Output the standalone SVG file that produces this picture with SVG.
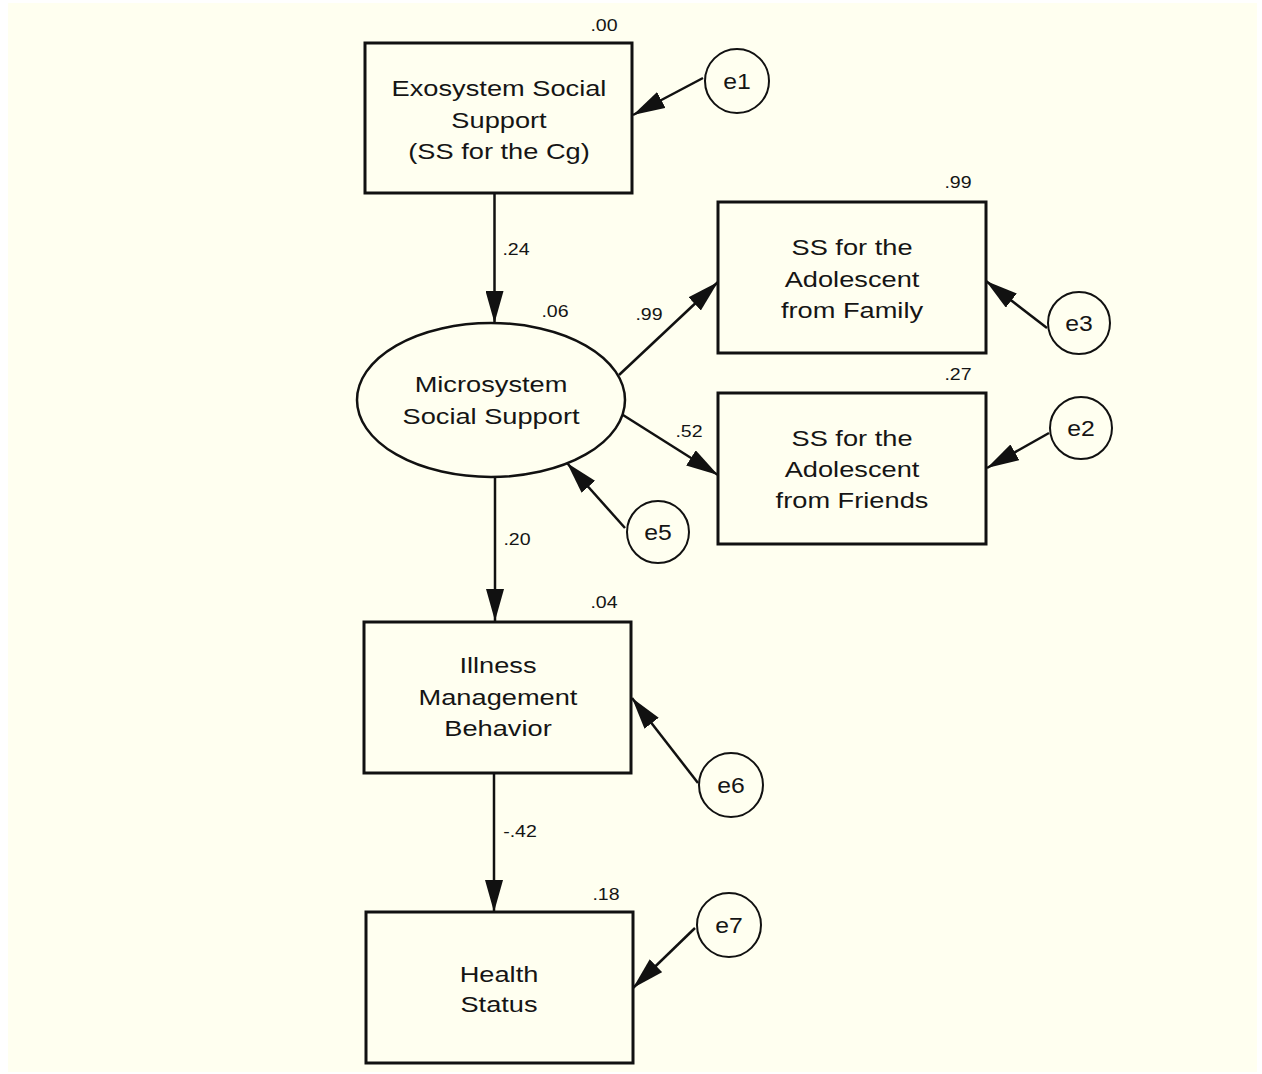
<svg xmlns="http://www.w3.org/2000/svg" width="1262" height="1074" viewBox="0 0 1262 1074">
<defs>
<style>
.node rect{fill:none;stroke:#111;stroke-width:3}
.node ellipse{fill:none;stroke:#111;stroke-width:2.5}
.err circle{fill:none;stroke:#111;stroke-width:2}
.lbl{font-family:"Liberation Sans",Arial,sans-serif;font-size:22.5px;fill:#151515;text-anchor:middle}
.num{font-family:"Liberation Sans",Arial,sans-serif;font-size:17px;fill:#151515;text-anchor:middle}
.conn line{stroke:#111;stroke-width:2.5;marker-end:url(#ah)}
</style>
<marker id="ah" markerUnits="userSpaceOnUse" markerWidth="32" markerHeight="18" refX="32" refY="9" orient="auto" viewBox="0 0 32 18">
<path d="M0,0 L32,9 L0,18 Z" fill="#111"/>
</marker>
</defs>
<rect x="0" y="0" width="1262" height="1074" fill="#ffffff"/>
<rect x="8" y="3" width="1249" height="1069" fill="#fffff0"/>

<g id="connectors" class="conn">
<line x1="494.5" y1="193" x2="494.5" y2="323"/>
<line x1="619" y1="375" x2="718" y2="282"/>
<line x1="623" y1="415" x2="718" y2="475"/>
<line x1="495" y1="477" x2="495" y2="621"/>
<line x1="494" y1="773" x2="494" y2="912"/>
<line x1="703" y1="78" x2="633" y2="115"/>
<line x1="1047" y1="328" x2="986" y2="281"/>
<line x1="1049" y1="433" x2="987" y2="468"/>
<line x1="625" y1="528" x2="567" y2="463"/>
<line x1="698" y1="783" x2="632" y2="698"/>
<line x1="695" y1="928" x2="633" y2="988"/>
</g>

<g id="path-labels">
<text class="num" transform="translate(516,255) scale(1.15,1)">.24</text>
<text class="num" transform="translate(649,320) scale(1.15,1)">.99</text>
<text class="num" transform="translate(689,437) scale(1.15,1)">.52</text>
<text class="num" transform="translate(517,545) scale(1.15,1)">.20</text>
<text class="num" transform="translate(520,837) scale(1.15,1)">-.42</text>
</g>

<g id="exosystem" class="node">
<rect x="365" y="43" width="267" height="150"/>
<text class="lbl" transform="translate(499,96) scale(1.21,1)">Exosystem Social</text>
<text class="lbl" transform="translate(499,128) scale(1.21,1)">Support</text>
<text class="lbl" transform="translate(499,159) scale(1.21,1)">(SS for the Cg)</text>
<text class="num" transform="translate(604,31) scale(1.15,1)">.00</text>
</g>

<g id="microsystem" class="node">
<ellipse cx="491" cy="400" rx="134" ry="77"/>
<text class="lbl" transform="translate(491,392) scale(1.21,1)">Microsystem</text>
<text class="lbl" transform="translate(491,424) scale(1.21,1)">Social Support</text>
<text class="num" transform="translate(555,317) scale(1.15,1)">.06</text>
</g>

<g id="ss-family" class="node">
<rect x="718" y="202" width="268" height="151"/>
<text class="lbl" transform="translate(852,255) scale(1.21,1)">SS for the</text>
<text class="lbl" transform="translate(852,287) scale(1.21,1)">Adolescent</text>
<text class="lbl" transform="translate(852,318) scale(1.21,1)">from Family</text>
<text class="num" transform="translate(958,188) scale(1.15,1)">.99</text>
</g>

<g id="ss-friends" class="node">
<rect x="718" y="393" width="268" height="151"/>
<text class="lbl" transform="translate(852,446) scale(1.21,1)">SS for the</text>
<text class="lbl" transform="translate(852,477) scale(1.21,1)">Adolescent</text>
<text class="lbl" transform="translate(852,508) scale(1.21,1)">from Friends</text>
<text class="num" transform="translate(958,380) scale(1.15,1)">.27</text>
</g>

<g id="illness" class="node">
<rect x="364" y="622" width="267" height="151"/>
<text class="lbl" transform="translate(498,673) scale(1.21,1)">Illness</text>
<text class="lbl" transform="translate(498,705) scale(1.21,1)">Management</text>
<text class="lbl" transform="translate(498,736) scale(1.21,1)">Behavior</text>
<text class="num" transform="translate(604,608) scale(1.15,1)">.04</text>
</g>

<g id="health" class="node">
<rect x="366" y="912" width="267" height="151"/>
<text class="lbl" transform="translate(499,982) scale(1.21,1)">Health</text>
<text class="lbl" transform="translate(499,1012) scale(1.21,1)">Status</text>
<text class="num" transform="translate(606,900) scale(1.15,1)">.18</text>
</g>

<g id="e1" class="err">
<circle cx="737" cy="81" r="32"/>
<text class="lbl" transform="translate(737,89) scale(1.1,1)">e1</text>
</g>
<g id="e3" class="err">
<circle cx="1079" cy="323" r="31"/>
<text class="lbl" transform="translate(1079,331) scale(1.1,1)">e3</text>
</g>
<g id="e2" class="err">
<circle cx="1081" cy="428" r="31"/>
<text class="lbl" transform="translate(1081,436) scale(1.1,1)">e2</text>
</g>
<g id="e5" class="err">
<circle cx="658" cy="532" r="31"/>
<text class="lbl" transform="translate(658,540) scale(1.1,1)">e5</text>
</g>
<g id="e6" class="err">
<circle cx="731" cy="785" r="32"/>
<text class="lbl" transform="translate(731,793) scale(1.1,1)">e6</text>
</g>
<g id="e7" class="err">
<circle cx="729" cy="925" r="32"/>
<text class="lbl" transform="translate(729,933) scale(1.1,1)">e7</text>
</g>
</svg>
